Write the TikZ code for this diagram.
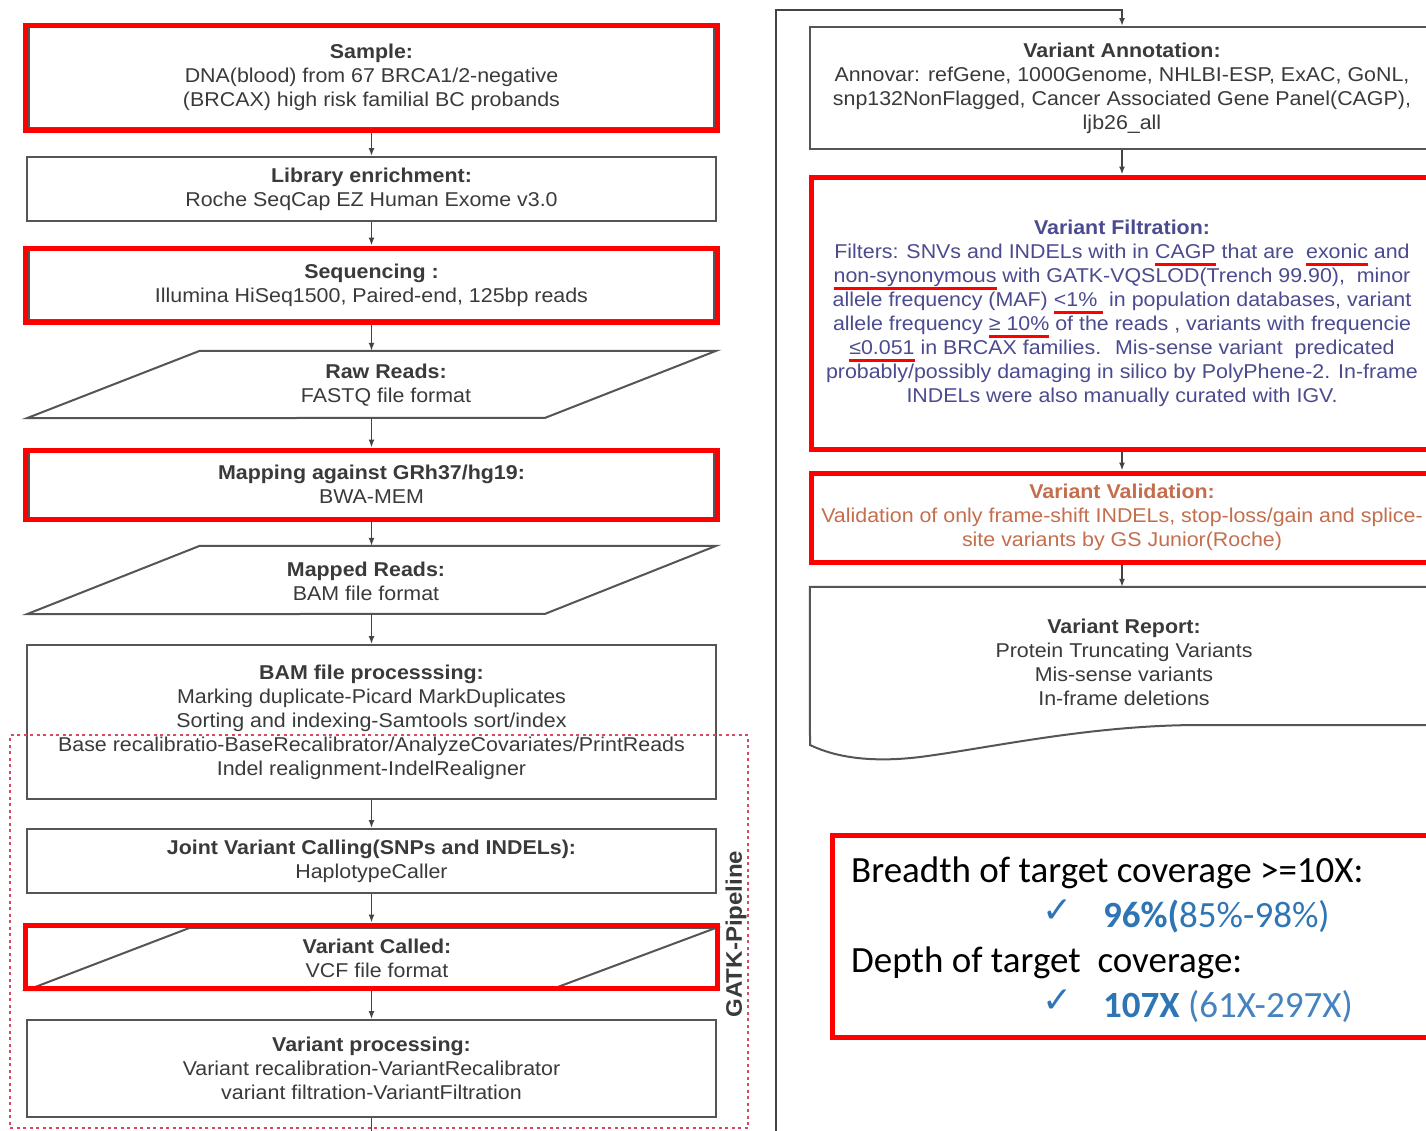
\documentclass[tikz,border=0pt]{standalone}
\usepackage{fontspec}
\setmainfont{Liberation Sans}[FakeStretch=1.07]
\newfontfamily\calfont{Carlito}
\newfontfamily\djv{DejaVu Sans}
\usetikzlibrary{arrows.meta}
\definecolor{boxgrey}{HTML}{555555}
\definecolor{txtgrey}{HTML}{3A3A3A}
\definecolor{filtblue}{HTML}{4B4B8F}
\definecolor{valorange}{HTML}{C46E4E}
\definecolor{covblue}{HTML}{2E75B6}
\definecolor{covblueb}{HTML}{4482C0}
\definecolor{dotred}{HTML}{D84A64}
\newcommand\redul[1]{\setbox0=\hbox{#1}\leavevmode\rlap{\textcolor{red}{\rule[-8pt]{\wd0}{2.8pt}}}\box0\relax}
\tikzset{
  gbox/.style={draw=boxgrey, line width=2pt, fill=white, inner sep=0pt, align=center,
    text=txtgrey, font=\fontsize{20}{24}\selectfont},
  redframe/.style={draw=red, line width=5pt, inner sep=0pt, align=center,
    font=\fontsize{20}{24}\selectfont},
  ghost/.style={inner sep=0pt},
  txt/.style={align=center, text=txtgrey, inner sep=0pt, font=\fontsize{20}{24}\selectfont},
  shapeline/.style={draw=boxgrey, line width=2pt, fill=white},
  arr/.style={draw=boxgrey!80!black, line width=1.5pt, -{Latex[length=8pt,width=6pt]}},
  gatkframe/.style={draw=dotred, line width=2.3pt, dash pattern=on 3pt off 3.5pt, inner sep=0pt},
  covtxt/.style={anchor=base west, inner sep=0pt, font=\calfont\fontsize{37}{44}\selectfont},
  chk/.style={anchor=base west, inner sep=0pt, text=covblue, font=\djv\fontsize{36}{40}\selectfont}
}
\begin{document}
\begin{tikzpicture}[x=1pt,y=-1pt]
\useasboundingbox (0,0) rectangle (1426,1130);
\clip (0,0) rectangle (1426,1130);
\fill[white] (0,0) rectangle (1426,1130);

% ---------- left column ----------
\node[gbox, minimum width=685pt, minimum height=101pt] (sample) at (371.5,77.5)
  {\textbf{Sample:}\\DNA(blood) from 67 BRCA1/2-negative\\(BRCAX) high risk familial BC probands};
\node[gbox, minimum width=689pt, minimum height=64pt] (lib) at (371.5,189)
  {\textbf{Library enrichment:}\\Roche SeqCap EZ Human Exome v3.0};
\node[gbox, minimum width=685pt, minimum height=70pt] (seq) at (371.5,285)
  {\textbf{Sequencing :}\\Illumina HiSeq1500, Paired-end, 125bp reads};

\node[ghost, minimum width=689pt, minimum height=67pt] (raw) at (371.5,384.5) {};
\draw[shapeline] (raw.north west) ++(173,0) -- (raw.north east) -- ++(-171,67) -- (raw.south west) -- cycle;
\node[txt] (rawtxt) at (386,385.5) {\textbf{Raw Reads:}\\FASTQ file format};

\node[gbox, minimum width=685pt, minimum height=66pt] (map) at (371.5,484.5)
  {\textbf{Mapping against GRh37/hg19:}\\BWA-MEM};

\node[ghost, minimum width=689pt, minimum height=68pt] (mapped) at (371.5,580) {};
\draw[shapeline] (mapped.north west) ++(173,0) -- (mapped.north east) -- ++(-171,68) -- (mapped.south west) -- cycle;
\node[txt] (mappedtxt) at (366,581.5) {\textbf{Mapped Reads:}\\BAM file format};

\node[gbox, minimum width=689pt, minimum height=154pt] (bam) at (371.5,722)
  {\textbf{BAM file processsing:}\\Marking duplicate-Picard MarkDuplicates\\Sorting and indexing-Samtools sort/index\\Base recalibratio-BaseRecalibrator/AnalyzeCovariates/PrintReads\\Indel realignment-IndelRealigner};
\node[gbox, minimum width=689pt, minimum height=64pt] (joint) at (371.5,861)
  {\textbf{Joint Variant Calling(SNPs and INDELs):}\\HaplotypeCaller};

\node[ghost, minimum width=689pt, minimum height=62pt] (called) at (371.5,959) {};
\draw[shapeline] (called.north west) ++(163,0) -- (called.north east) -- ++(-166,62) -- (called.south west) -- cycle;
\node[txt] (calledtxt) at (377,958) {\textbf{Variant Called:}\\VCF file format};

\node[gbox, minimum width=689pt, minimum height=97pt] (vproc) at (371.5,1068.5)
  {\textbf{Variant processing:}\\Variant recalibration-VariantRecalibrator\\variant filtration-VariantFiltration};

% red highlight frames (left)
\node[redframe, minimum width=692pt, minimum height=105pt] (sampleR) at (371.5,77.5) {};
\node[redframe, minimum width=692pt, minimum height=74pt] (seqR) at (371.5,285) {};
\node[redframe, minimum width=692pt, minimum height=69pt] (mapR) at (371.5,484.5) {};
\node[redframe, minimum width=692pt, minimum height=63pt] (calledR) at (371.5,956.5) {};

% GATK frame and label
\node[gatkframe, minimum width=738pt, minimum height=393pt] (gatk) at (379,931.5) {};
\node[rotate=90, inner sep=0pt, text=txtgrey, font=\bfseries\fontsize{22.5}{26}\selectfont] (gatklabel) at (736,934) {GATK-Pipeline};

% left connectors
\draw[arr] (sampleR.south) -- (lib.north);
\draw[arr] (lib.south) -- (seqR.north);
\draw[arr] (seqR.south) -- (raw.north);
\draw[arr] (raw.south) -- (mapR.north);
\draw[arr] (mapR.south) -- (mapped.north);
\draw[arr] (mapped.south) -- (bam.north);
\draw[arr] (bam.south) -- (joint.north);
\draw[arr] (joint.south) -- (calledR.north);
\draw[arr] (called.south) -- (vproc.north);

% ---------- right column ----------
\node[gbox, minimum width=624pt, minimum height=122pt] (annot) at (1122,88)
  {\textbf{Variant Annotation:}\\Annovar: refGene, 1000Genome, NHLBI-ESP, ExAC, GoNL,\\snp132NonFlagged, Cancer Associated Gene Panel(CAGP),\\ljb26\_all};

\node[redframe, fill=white, text=filtblue, minimum width=622pt, minimum height=272pt] (filt) at (1122,313)
  {\textbf{Variant Filtration:}\\
   Filters: SNVs and INDELs with in \redul{CAGP} that are \ \redul{exonic} and\\
   \redul{non-synonymous} with GATK-VQSLOD(Trench 99.90), \ minor\\
   allele frequency (MAF) \redul{<1\%\ } in population databases, variant\\
   allele frequency \redul{≥ 10\%} of the reads , variants with frequencie\\
   \redul{≤0.051} in BRCAX families. \ Mis-sense variant \ predicated\\
   probably/possibly damaging in silico by PolyPhene-2. In-frame\\
   INDELs were also manually curated with IGV.};

\node[redframe, fill=white, text=valorange, minimum width=622pt, minimum height=89pt] (val) at (1122,517.5)
  {\textbf{Variant Validation:}\\Validation of only frame-shift INDELs, stop-loss/gain and splice-\\site variants by GS Junior(Roche)};

\node[ghost, minimum width=624pt, minimum height=138pt] (report) at (1122,656) {};
\draw[shapeline] (report.north west) -- (report.north east) -- (1440,725) -- (1200,725)
  .. controls (1090,725) and (990,748) .. (920,757)
  .. controls (870,763) and (835,757) .. (810,745) -- cycle;
\node[txt] (reporttxt) at (1124,662)
  {\textbf{Variant Report:}\\Protein Truncating Variants\\Mis-sense variants\\In-frame deletions};

% right connectors
\coordinate (b1) at (371.5,1150);
\coordinate (b2) at (776,1150);
\coordinate (t1) at (776,10);
\coordinate (t2) at (1122,10);
\draw[arr] (vproc.south) -- (b1) -- (b2) -- (t1) -- (t2) -- (annot.north);
\draw[arr] (annot.south) -- (filt.north);
\draw[arr] (filt.south) -- (val.north);
\draw[arr] (val.south) -- (report.north);

% ---------- coverage box ----------
\node[redframe, minimum width=608pt, minimum height=202pt] (cov) at (1136,936) {};
\node[covtxt] (cov1) at (851,882) {Breadth of target coverage >=10X:};
\node[chk] (chk1) at (1042,922) {✓};
\node[covtxt, text=covblue] (cov2) at (1103,927) {\textbf{96\%(}85\%-98\%)};
\node[covtxt] (cov3) at (851,972) {Depth of target \ coverage:};
\node[chk] (chk2) at (1042,1012) {✓};
\node[covtxt, text=covblue] (cov4) at (1103,1017) {\textbf{107X} \textcolor{covblueb}{(61X-297X)}};
\end{tikzpicture}
\end{document}
